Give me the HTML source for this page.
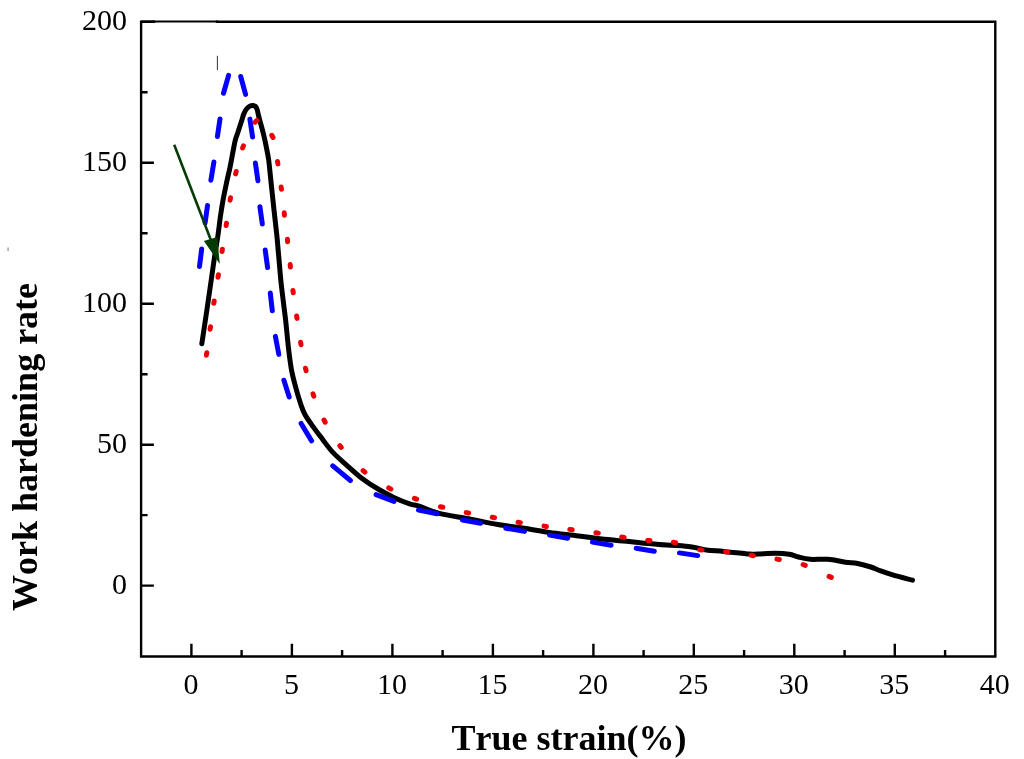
<!DOCTYPE html><html><head><meta charset="utf-8"><style>html,body{margin:0;padding:0;background:#fff;overflow:hidden}svg{display:block;will-change:transform}</style></head><body>
<svg width="1024" height="759" viewBox="0 0 1024 759">
<rect width="1024" height="759" fill="#fff"/>
<path d="M201.8,343.8 C202.6,338.5 205.1,322.1 206.6,312.0 C208.1,301.9 209.5,292.2 210.8,283.0 C212.1,273.8 213.3,265.0 214.5,257.0 C215.7,249.0 217.0,242.1 218.0,235.0 C219.0,227.9 219.8,220.6 220.7,214.5 C221.6,208.4 222.3,204.0 223.3,198.7 C224.3,193.4 225.4,188.1 226.5,182.9 C227.6,177.7 228.9,172.6 230.0,167.4 C231.1,162.2 232.1,156.1 233.0,151.6 C233.9,147.1 234.4,143.8 235.2,140.5 C236.0,137.2 236.9,135.4 238.0,132.0 C239.1,128.6 241.0,122.8 241.9,120.0 C242.8,117.2 242.8,116.6 243.4,115.0 C244.0,113.4 244.7,111.8 245.5,110.5 C246.3,109.2 247.3,107.8 248.5,107.0 C249.7,106.2 251.3,105.7 252.5,105.6 C253.7,105.5 254.7,105.8 255.5,106.5 C256.3,107.2 256.8,108.6 257.3,110.0 C257.8,111.4 257.8,112.5 258.4,115.0 C259.0,117.5 260.2,121.7 261.1,125.0 C262.0,128.3 262.8,131.3 263.7,135.0 C264.6,138.7 265.5,142.8 266.3,147.0 C267.1,151.2 267.9,154.5 268.7,160.0 C269.4,165.5 269.9,171.7 270.8,180.0 C271.7,188.3 273.0,200.8 274.0,210.0 C275.0,219.2 276.0,227.5 276.8,235.0 C277.6,242.5 277.9,247.5 278.6,255.0 C279.3,262.5 280.0,272.0 280.8,280.0 C281.6,288.0 282.7,296.3 283.5,303.0 C284.3,309.7 284.7,312.2 285.6,320.0 C286.5,327.8 287.7,341.7 288.7,350.0 C289.7,358.3 290.4,364.0 291.5,370.0 C292.6,376.0 293.8,380.2 295.3,385.8 C296.8,391.4 299.0,398.9 300.6,403.7 C302.2,408.4 302.7,410.4 304.8,414.3 C306.9,418.2 310.2,422.7 313.2,426.9 C316.2,431.1 319.5,435.3 322.7,439.5 C325.9,443.7 328.7,447.9 332.6,452.1 C336.5,456.3 341.4,460.4 346.3,464.8 C351.2,469.2 356.8,474.5 362.1,478.5 C367.4,482.5 372.7,485.9 378.0,489.0 C383.3,492.1 388.5,494.9 393.8,497.4 C399.1,499.9 405.2,502.3 409.6,503.8 C414.0,505.3 415.1,504.8 420.0,506.4 C424.9,508.0 431.2,511.3 439.3,513.4 C447.4,515.5 458.8,516.9 468.6,518.7 C478.4,520.6 487.7,522.8 497.9,524.5 C508.1,526.2 521.4,527.9 530.0,529.2 C538.6,530.5 541.2,531.4 549.3,532.5 C557.4,533.6 568.8,534.8 578.6,536.0 C588.4,537.2 597.7,538.5 607.9,539.6 C618.1,540.7 631.4,541.9 640.0,542.7 C648.6,543.5 651.2,544.0 659.3,544.6 C667.4,545.2 680.8,545.5 688.6,546.4 C696.4,547.3 700.3,549.1 706.2,549.9 C712.1,550.7 716.5,550.7 723.8,551.4 C731.1,552.1 744.4,553.6 750.0,554.0 C755.6,554.4 753.4,554.1 757.6,554.0 C761.8,553.9 769.9,553.3 775.2,553.3 C780.5,553.3 785.3,553.6 789.2,554.2 C793.1,554.8 795.1,556.1 798.6,557.0 C802.1,557.9 805.4,558.9 810.3,559.3 C815.2,559.7 822.0,558.8 827.9,559.3 C833.8,559.8 840.5,561.5 845.5,562.2 C850.5,562.9 853.4,562.7 857.6,563.5 C861.8,564.3 867.1,565.8 870.8,567.0 C874.4,568.2 875.9,569.2 879.5,570.5 C883.1,571.8 887.2,573.3 892.7,574.9 C898.2,576.5 909.2,579.3 912.5,580.2" fill="none" stroke="#000" stroke-width="5" stroke-linecap="round" stroke-linejoin="round"/>
<path d="M199.5,266.5L201.7,248.9M205.1,222.8L207.5,205.6M210.9,180.2L213.9,162.0M217.4,136.6L220.0,118.9M223.5,93.3L228.6,75.4M240.7,76.5L245.6,94.4M249.9,119.1L252.6,137.1M255.4,163.0L257.9,180.7M259.9,206.7L262.3,223.9M265.2,249.9L267.6,267.6M270.3,293.1L272.3,310.7M275.4,336.4L278.8,354.4M283.9,380.2L289.2,397.0M301.1,423.5L311.6,440.9M332.8,465.9L350.4,480.5M376.1,494.6L394.0,501.4M418.5,510.1L437.2,513.8M462.5,520.0L480.6,523.2M505.8,528.2L524.5,531.4M549.6,535.1L567.7,538.2M592.4,542.1L611.1,545.2M636.2,548.2L654.3,551.3M679.5,552.9L697.7,555.6" fill="none" stroke="#0600fa" stroke-width="5" stroke-linecap="round"/>
<path d="M206.4,355.2L206.8,352.8M210.1,329.2L210.5,326.8M213.8,303.3L214.2,300.9M218.0,277.2L218.4,274.8M222.0,251.6L222.4,249.2M226.1,225.6L226.5,223.2M230.1,200.2L230.5,197.8M235.6,173.9L236.2,171.5M242.6,148.0L243.4,145.8M255.1,122.2L256.9,120.4M271.8,135.3L273.0,137.5M277.5,161.5L277.9,163.9M281.1,186.9L281.5,189.3M284.2,212.8L284.4,215.2M287.4,239.3L287.6,241.7M290.2,264.6L290.4,267.0M292.9,290.4L293.3,292.8M296.6,316.0L297.0,318.4M300.6,342.3L301.0,344.7M305.5,368.3L306.1,370.7M313.0,393.9L313.8,396.1M324.0,420.0L325.2,422.2M339.8,445.6L341.2,447.4M363.1,470.6L364.9,472.2M388.7,487.9L390.9,489.1M414.4,498.4L416.6,499.2M440.4,506.7L442.8,507.3M466.2,512.6L468.6,513.0M492.2,517.3L494.6,517.7M518.0,522.2L520.4,522.6M544.0,526.1L546.4,526.5M569.8,529.4L572.2,529.8M595.9,532.7L598.3,533.1M621.7,537.0L624.1,537.4M647.6,540.4L650.0,540.6M673.3,542.3L675.7,542.7M699.7,549.7L702.1,550.1M725.5,551.8L727.9,552.0M751.1,555.3L753.5,555.7M776.9,559.1L779.3,559.5M803.1,564.5L805.3,565.3M829.1,576.4L831.3,577.4" fill="none" stroke="#ec0006" stroke-width="5" stroke-linecap="round"/>
<line x1="174.2" y1="144.8" x2="212" y2="243" stroke="#053c05" stroke-width="2.6"/>
<path d="M203.9,241.1 L217.2,236.9 L219.8,264 Z" fill="#053c05"/>
<line x1="217.4" y1="55.8" x2="217.4" y2="70.1" stroke="#333" stroke-width="1"/>
<rect x="7.3" y="247.5" width="1.6" height="3.5" fill="#aaa"/>
<path d="M141.1,656.5V21.8H154M217,21.8H995.3V656.5H141.1" fill="none" stroke="#000" stroke-width="2.4" stroke-linecap="square"/>
<path d="M191.4,656.5V643.7M291.9,656.5V643.7M392.4,656.5V643.7M492.9,656.5V643.7M593.4,656.5V643.7M693.8,656.5V643.7M794.3,656.5V643.7M894.8,656.5V643.7M241.6,656.5V650.0M342.1,656.5V650.0M442.6,656.5V650.0M543.1,656.5V650.0M643.6,656.5V650.0M744.1,656.5V650.0M844.6,656.5V650.0M945.1,656.5V650.0M141.1,585.6H153.9M141.1,444.7H153.9M141.1,303.7H153.9M141.1,162.8H153.9M141.1,21.8H153.9M141.1,515.1H147.6M141.1,374.2H147.6M141.1,233.2H147.6M141.1,92.3H147.6" fill="none" stroke="#000" stroke-width="2.4"/>
<line x1="153" y1="21.5" x2="218" y2="21.5" stroke="#000" stroke-width="1.8"/>
<text x="190.9" y="694" font-family="Liberation Serif" font-size="30" text-anchor="middle">0</text>
<text x="291.4" y="694" font-family="Liberation Serif" font-size="30" text-anchor="middle">5</text>
<text x="391.9" y="694" font-family="Liberation Serif" font-size="30" text-anchor="middle">10</text>
<text x="492.4" y="694" font-family="Liberation Serif" font-size="30" text-anchor="middle">15</text>
<text x="592.9" y="694" font-family="Liberation Serif" font-size="30" text-anchor="middle">20</text>
<text x="693.3" y="694" font-family="Liberation Serif" font-size="30" text-anchor="middle">25</text>
<text x="793.8" y="694" font-family="Liberation Serif" font-size="30" text-anchor="middle">30</text>
<text x="894.3" y="694" font-family="Liberation Serif" font-size="30" text-anchor="middle">35</text>
<text x="994.8" y="694" font-family="Liberation Serif" font-size="30" text-anchor="middle">40</text>
<text x="127" y="594.1" font-family="Liberation Serif" font-size="30" text-anchor="end">0</text>
<text x="127" y="453.2" font-family="Liberation Serif" font-size="30" text-anchor="end">50</text>
<text x="127" y="312.2" font-family="Liberation Serif" font-size="30" text-anchor="end">100</text>
<text x="127" y="171.3" font-family="Liberation Serif" font-size="30" text-anchor="end">150</text>
<text x="127" y="30.3" font-family="Liberation Serif" font-size="30" text-anchor="end">200</text>
<text x="569" y="749.5" font-family="Liberation Serif" font-weight="bold" font-size="36" text-anchor="middle" style="font-kerning:none">True strain(%)</text>
<text transform="translate(37.4,446.9) rotate(-90)" x="0" y="0" font-family="Liberation Serif" font-weight="bold" font-size="36" text-anchor="middle" style="font-kerning:none">Work hardening rate</text>
</svg></body></html>
